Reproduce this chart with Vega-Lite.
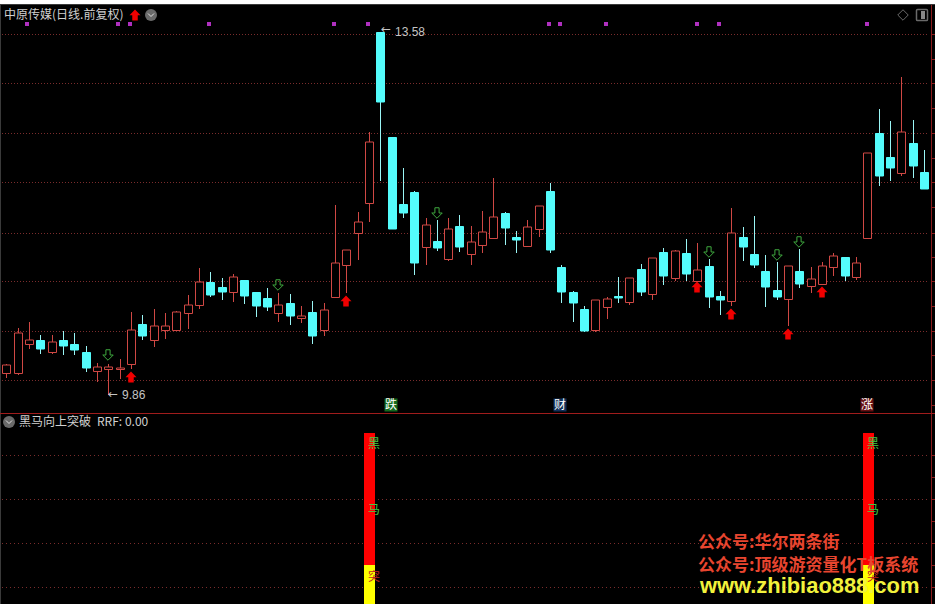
{"$schema":"https://vega.github.io/schema/vega-lite/v6.json","width":935,"height":604,"padding":0,"autosize":"none","background":"#000000","config":{"view":{"stroke":null}},
"datasets":{
"candles":[
{"i":0,"d":"u","o":10.089,"c":10.164,"h":10.178,"l":10.031},{"i":1,"d":"u","o":10.089,"c":10.492,"h":10.544,"l":10.065},{"i":2,"d":"u","o":10.386,"c":10.421,"h":10.608,"l":10.335},{"i":3,"d":"d","o":10.424,"c":10.335,"h":10.472,"l":10.283},{"i":4,"d":"u","o":10.301,"c":10.4,"h":10.472,"l":10.283},{"i":5,"d":"d","o":10.424,"c":10.362,"h":10.516,"l":10.273},{"i":6,"d":"d","o":10.383,"c":10.321,"h":10.495,"l":10.273},{"i":7,"d":"d","o":10.301,"c":10.14,"h":10.362,"l":10.099},{"i":8,"d":"u","o":10.109,"c":10.15,"h":10.185,"l":9.996},{"i":9,"d":"u","o":10.13,"c":10.147,"h":10.178,"l":9.86},{"i":10,"d":"u","o":10.124,"c":10.134,"h":10.229,"l":10.027},{"i":11,"d":"u","o":10.181,"c":10.523,"h":10.708,"l":10.13},{"i":12,"d":"d","o":10.585,"c":10.468,"h":10.677,"l":10.424},{"i":13,"d":"u","o":10.421,"c":10.564,"h":10.741,"l":10.355},{"i":14,"d":"u","o":10.523,"c":10.564,"h":10.7,"l":10.434},{"i":15,"d":"u","o":10.523,"c":10.708,"h":10.718,"l":10.523},{"i":16,"d":"u","o":10.703,"c":10.779,"h":10.885,"l":10.536},{"i":17,"d":"u","o":10.779,"c":11.015,"h":11.158,"l":10.744},{"i":18,"d":"d","o":11.015,"c":10.888,"h":11.121,"l":10.864},{"i":19,"d":"d","o":10.964,"c":10.919,"h":11.056,"l":10.837},{"i":20,"d":"u","o":10.913,"c":11.066,"h":11.097,"l":10.816},{"i":21,"d":"d","o":11.036,"c":10.878,"h":11.036,"l":10.796},{"i":22,"d":"d","o":10.913,"c":10.775,"h":10.913,"l":10.662},{"i":23,"d":"d","o":10.851,"c":10.765,"h":10.953,"l":10.724},{"i":24,"d":"u","o":10.697,"c":10.785,"h":10.902,"l":10.611},{"i":25,"d":"d","o":10.8,"c":10.673,"h":10.892,"l":10.58},{"i":26,"d":"u","o":10.652,"c":10.667,"h":10.769,"l":10.601},{"i":27,"d":"d","o":10.708,"c":10.468,"h":10.82,"l":10.386},{"i":28,"d":"u","o":10.529,"c":10.728,"h":10.8,"l":10.468},{"i":29,"d":"u","o":10.867,"c":11.21,"h":11.804,"l":10.867},{"i":30,"d":"u","o":11.195,"c":11.343,"h":11.343,"l":10.902},{"i":31,"d":"u","o":11.523,"c":11.63,"h":11.732,"l":11.247},{"i":32,"d":"u","o":11.825,"c":12.45,"h":12.552,"l":11.636},{"i":33,"d":"d","o":13.58,"c":12.866,"h":13.58,"l":12.053},{"i":34,"d":"d","o":12.504,"c":11.561,"h":12.504,"l":11.561},{"i":35,"d":"d","o":11.817,"c":11.725,"h":12.183,"l":11.674},{"i":36,"d":"d","o":11.94,"c":11.216,"h":11.951,"l":11.09},{"i":37,"d":"u","o":11.38,"c":11.599,"h":11.671,"l":11.192},{"i":38,"d":"d","o":11.438,"c":11.367,"h":11.653,"l":11.336},{"i":39,"d":"u","o":11.257,"c":11.558,"h":11.671,"l":11.233},{"i":40,"d":"d","o":11.592,"c":11.377,"h":11.705,"l":11.326},{"i":41,"d":"u","o":11.308,"c":11.425,"h":11.592,"l":11.192},{"i":42,"d":"u","o":11.4,"c":11.527,"h":11.743,"l":11.315},{"i":43,"d":"u","o":11.472,"c":11.681,"h":12.081,"l":11.472},{"i":44,"d":"d","o":11.725,"c":11.571,"h":11.735,"l":11.397},{"i":45,"d":"d","o":11.479,"c":11.448,"h":11.541,"l":11.315},{"i":46,"d":"u","o":11.39,"c":11.579,"h":11.653,"l":11.39},{"i":47,"d":"u","o":11.561,"c":11.794,"h":11.794,"l":11.479},{"i":48,"d":"d","o":11.951,"c":11.346,"h":12.033,"l":11.315},{"i":49,"d":"d","o":11.172,"c":10.916,"h":11.192,"l":10.803},{"i":50,"d":"d","o":10.916,"c":10.803,"h":10.926,"l":10.608},{"i":51,"d":"d","o":10.741,"c":10.516,"h":10.772,"l":10.506},{"i":52,"d":"u","o":10.526,"c":10.831,"h":10.831,"l":10.506},{"i":53,"d":"u","o":10.765,"c":10.841,"h":10.861,"l":10.639},{"i":54,"d":"d","o":10.875,"c":10.854,"h":11.069,"l":10.803},{"i":55,"d":"u","o":10.816,"c":11.056,"h":11.056,"l":10.782},{"i":56,"d":"d","o":11.151,"c":10.916,"h":11.203,"l":10.875},{"i":57,"d":"u","o":10.898,"c":11.261,"h":11.261,"l":10.834},{"i":58,"d":"d","o":11.326,"c":11.08,"h":11.367,"l":10.987},{"i":59,"d":"u","o":11.062,"c":11.336,"h":11.346,"l":11.028},{"i":60,"d":"d","o":11.315,"c":11.1,"h":11.459,"l":11.028},{"i":61,"d":"u","o":11.031,"c":11.138,"h":11.418,"l":11.031},{"i":62,"d":"d","o":11.182,"c":10.864,"h":11.254,"l":10.752},{"i":63,"d":"d","o":10.875,"c":10.834,"h":10.926,"l":10.68},{"i":64,"d":"u","o":10.826,"c":11.517,"h":11.776,"l":10.772},{"i":65,"d":"d","o":11.479,"c":11.377,"h":11.582,"l":11.233},{"i":66,"d":"d","o":11.305,"c":11.192,"h":11.694,"l":11.162},{"i":67,"d":"d","o":11.131,"c":10.967,"h":11.295,"l":10.762},{"i":68,"d":"d","o":10.936,"c":10.864,"h":11.223,"l":10.834},{"i":69,"d":"u","o":10.847,"c":11.179,"h":11.179,"l":10.567},{"i":70,"d":"d","o":11.131,"c":10.998,"h":11.356,"l":10.957},{"i":71,"d":"u","o":10.98,"c":11.046,"h":11.169,"l":10.905},{"i":72,"d":"u","o":11.001,"c":11.179,"h":11.22,"l":11.001},{"i":73,"d":"u","o":11.175,"c":11.281,"h":11.312,"l":11.08},{"i":74,"d":"d","o":11.271,"c":11.08,"h":11.271,"l":11.028},{"i":75,"d":"u","o":11.069,"c":11.21,"h":11.271,"l":11.039},{"i":76,"d":"u","o":11.472,"c":12.337,"h":12.337,"l":11.472},{"i":77,"d":"d","o":12.542,"c":12.107,"h":12.788,"l":12.005},{"i":78,"d":"d","o":12.299,"c":12.189,"h":12.665,"l":12.056},{"i":79,"d":"u","o":12.138,"c":12.552,"h":13.116,"l":12.107},{"i":80,"d":"d","o":12.439,"c":12.21,"h":12.675,"l":12.087},{"i":81,"d":"d","o":12.142,"c":11.974,"h":12.368,"l":11.974}],
"gridMain":[{"i":-0.35,"i2":81.27,"p":13.556},{"i":-0.35,"i2":81.27,"p":13.053},{"i":-0.35,"i2":81.27,"p":12.543},{"i":-0.35,"i2":81.27,"p":12.039},{"i":-0.35,"i2":81.27,"p":11.525},{"i":-0.35,"i2":81.27,"p":11.024},{"i":-0.35,"i2":81.27,"p":10.52},{"i":-0.35,"i2":81.27,"p":10.012}],
"gridLow":[{"i":-0.35,"i2":81.27,"v":86.96},{"i":-0.35,"i2":81.27,"v":61.2},{"i":-0.35,"i2":81.27,"v":35.5},{"i":-0.35,"i2":81.27,"v":9.77}],
"ticksLow":[{"i":81.61,"i2":81.97,"v":87.1},{"i":81.61,"i2":81.97,"v":74.3},{"i":81.61,"i2":81.97,"v":61.4},{"i":81.61,"i2":81.97,"v":48.5},{"i":81.61,"i2":81.97,"v":35.7},{"i":81.61,"i2":81.97,"v":22.8},{"i":81.61,"i2":81.97,"v":9.9}],
"squares":[{"i":1.853,"p":13.659},{"i":9.885,"p":13.659},{"i":10.944,"p":13.659},{"i":17.917,"p":13.659},{"i":28.95,"p":13.659},{"i":31.95,"p":13.659},{"i":47.93,"p":13.659},{"i":48.9,"p":13.659},{"i":52.96,"p":13.659},{"i":60.99,"p":13.659},{"i":62.93,"p":13.659},{"i":75.99,"p":13.659}],
"up":[{"i":11.36,"p":13.759},{"i":11,"p":10.048},{"i":30,"p":10.826},{"i":61,"p":10.962},{"i":64,"p":10.693},{"i":69,"p":10.488},{"i":72,"p":10.919}],
"down":[{"i":9,"p":10.267},{"i":24,"p":10.99},{"i":38,"p":11.728},{"i":62,"p":11.329},{"i":68,"p":11.298},{"i":70,"p":11.431}],
"badges":[{"i":33.93,"p":9.755,"t":"跌","k":"跌"},{"i":48.9,"p":9.755,"t":"财","k":"财"},{"i":75.99,"p":9.755,"t":"涨","k":"涨"}],
"ticks":[{"i":81.61,"i2":81.97,"p":13.556},{"i":81.61,"i2":81.97,"p":13.3},{"i":81.61,"i2":81.97,"p":13.053},{"i":81.61,"i2":81.97,"p":12.798},{"i":81.61,"i2":81.97,"p":12.543},{"i":81.61,"i2":81.97,"p":12.291},{"i":81.61,"i2":81.97,"p":12.039},{"i":81.61,"i2":81.97,"p":11.784},{"i":81.61,"i2":81.97,"p":11.525},{"i":81.61,"i2":81.97,"p":11.271},{"i":81.61,"i2":81.97,"p":11.024},{"i":81.61,"i2":81.97,"p":10.772},{"i":81.61,"i2":81.97,"p":10.52},{"i":81.61,"i2":81.97,"p":10.267},{"i":81.61,"i2":81.97,"p":10.012},{"i":81.61,"i2":81.97,"p":9.76}],
"rrf":[{"i":32.05,"a":22.8,"b":100,"k":"red"},{"i":32.05,"a":0,"b":22.8,"k":"yellow"},{"i":76.05,"a":22.8,"b":100,"k":"red"},{"i":76.05,"a":0,"b":22.8,"k":"yellow"}],
"rrfText":[{"i":32.48,"v":93.6,"t":"黑","k":"g"},{"i":32.48,"v":55,"t":"马","k":"g"},{"i":32.48,"v":16,"t":"突","k":"r"},{"i":76.52,"v":93.6,"t":"黑","k":"g"},{"i":76.52,"v":55,"t":"马","k":"g"},{"i":76.52,"v":16,"t":"突","k":"r"}],
"mark":[{"i":61.05,"v":35.7,"t":"公众号:华尔两条街"},{"i":61.05,"v":22.3,"t":"公众号:顶级游资量化T板系统"}]
},
"encoding":{"x":{"field":"i","type":"quantitative","axis":null,"scale":{"domain":[-0.556,81.97],"range":[0,935],"padding":0,"nice":false,"zero":false,"round":true}}},
"resolve":{"scale":{"y":"independent","color":"independent","fill":"independent"}},
"layer":[
{"resolve":{"scale":{"color":"independent"}},"layer":[
{"data":{"name":"gridMain"},"mark":{"type":"rule","color":"#7a2c2c","strokeWidth":1,"strokeDash":[1,2],"yOffset":0.5},"encoding":{"x2":{"field":"i2"},"y":{"field":"p","type":"quantitative","axis":null,"scale":{"domain":[9.6755,13.908],"range":[413,0],"nice":false,"zero":false,"round":true}}}},
{"data":{"name":"candles"},"mark":{"type":"rule","strokeWidth":1,"xOffset":0.5},"encoding":{"y":{"field":"l","type":"quantitative","scale":{"domain":[9.6755,13.908],"range":[413,0],"nice":false,"zero":false,"round":true},"axis":null},"y2":{"field":"h"},"color":{"field":"d","type":"nominal","legend":null,"scale":{"domain":["u","d"],"range":["#d04844","#9af6f6"]}}}},
{"data":{"name":"candles"},"mark":{"type":"bar","size":8,"strokeWidth":1,"xOffset":0.5,"yOffset":0.5},"encoding":{"y":{"field":"o","type":"quantitative","axis":null,"scale":{"domain":[9.6755,13.908],"range":[413,0],"nice":false,"zero":false,"round":true}},"y2":{"field":"c"},"fill":{"field":"d","type":"nominal","legend":null,"scale":{"domain":["u","d"],"range":["#000000","#54fcfc"]}},"stroke":{"field":"d","type":"nominal","legend":null,"scale":{"domain":["u","d"],"range":["#d04844","#54fcfc"]}}}},
{"data":{"values":[{"i":81.61}]},"mark":{"type":"rule","color":"#8a1c1c","strokeWidth":1,"xOffset":0.5},"encoding":{}},
{"data":{"name":"ticks"},"mark":{"type":"rule","color":"#8a1c1c","strokeWidth":1,"yOffset":0.5},"encoding":{"x2":{"field":"i2"},"y":{"field":"p","type":"quantitative","axis":null,"scale":{"domain":[9.6755,13.908],"range":[413,0],"nice":false,"zero":false,"round":true}}}},
{"data":{"values":[{"i":-0.556}]},"mark":{"type":"rule","color":"#3a3a3a","strokeWidth":1,"xOffset":0.5},"encoding":{}},
{"data":{"values":[{"i":-0.556,"i2":81.97,"p":13.908,"p2":13.867}]},"mark":{"type":"rect","fill":"#ffffff"},"encoding":{"x2":{"field":"i2"},"y":{"field":"p","type":"quantitative","axis":null,"scale":{"domain":[9.6755,13.908],"range":[413,0],"nice":false,"zero":false,"round":true}},"y2":{"field":"p2"}}},
{"data":{"values":[{"i":-0.556,"i2":81.97,"p":13.867}]},"mark":{"type":"rule","color":"#3a3a3a","strokeWidth":1,"yOffset":0.5},"encoding":{"x2":{"field":"i2"},"y":{"field":"p","type":"quantitative","axis":null,"scale":{"domain":[9.6755,13.908],"range":[413,0],"nice":false,"zero":false,"round":true}}}},
{"data":{"values":[{"i":-0.556,"i2":81.97,"p":9.679}]},"mark":{"type":"rule","color":"#a01c1c","strokeWidth":1,"yOffset":0.5},"encoding":{"x2":{"field":"i2"},"y":{"field":"p","type":"quantitative","axis":null,"scale":{"domain":[9.6755,13.908],"range":[413,0],"nice":false,"zero":false,"round":true}}}},
{"data":{"name":"squares"},"mark":{"type":"point","shape":"square","filled":true,"size":16,"color":"#b030c0","opacity":1},"encoding":{"y":{"field":"p","type":"quantitative","axis":null,"scale":{"domain":[9.6755,13.908],"range":[413,0],"nice":false,"zero":false,"round":true}}}},
{"data":{"name":"up"},"mark":{"type":"point","shape":"M0,-1L1,0.05L0.5,0.05L0.5,1L-0.5,1L-0.5,0.05L-1,0.05Z","filled":true,"size":121,"color":"#f00000","opacity":1},"encoding":{"y":{"field":"p","type":"quantitative","axis":null,"scale":{"domain":[9.6755,13.908],"range":[413,0],"nice":false,"zero":false,"round":true}}}},
{"data":{"name":"down"},"mark":{"type":"point","shape":"M-0.4,-1H0.4V0H1L0,1L-1,0H-0.4Z","filled":false,"size":110,"stroke":"#3fa83f","strokeWidth":1,"opacity":1},"encoding":{"y":{"field":"p","type":"quantitative","axis":null,"scale":{"domain":[9.6755,13.908],"range":[413,0],"nice":false,"zero":false,"round":true}}}},
{"data":{"name":"badges"},"mark":{"type":"point","shape":"square","filled":true,"size":169,"opacity":1},"encoding":{"y":{"field":"p","type":"quantitative","axis":null,"scale":{"domain":[9.6755,13.908],"range":[413,0],"nice":false,"zero":false,"round":true}},"color":{"field":"k","type":"nominal","legend":null,"scale":{"domain":["跌","财","涨"],"range":["#146a1e","#12305a","#661012"]}}}},
{"data":{"name":"badges"},"mark":{"type":"text","font":"Noto Sans CJK SC","fontSize":12,"color":"#ffffff","baseline":"middle","align":"center"},"encoding":{"text":{"field":"t"},"y":{"field":"p","type":"quantitative","axis":null,"scale":{"domain":[9.6755,13.908],"range":[413,0],"nice":false,"zero":false,"round":true}}}},
{"data":{"values":[{"i":33.05,"p":13.61,"t":"←"},{"i":9.02,"p":9.87,"t":"←"}]},"mark":{"type":"text","font":"DejaVu Sans","fontSize":12,"color":"#c4c4c4","baseline":"middle","align":"left"},"encoding":{"text":{"field":"t"},"y":{"field":"p","type":"quantitative","axis":null,"scale":{"domain":[9.6755,13.908],"range":[413,0],"nice":false,"zero":false,"round":true}}}},
{"data":{"values":[{"i":34.3,"p":13.58,"t":"13.58"},{"i":10.2,"p":9.86,"t":"9.86"}]},"mark":{"type":"text","font":"Liberation Sans","fontSize":12,"color":"#c4c4c4","baseline":"middle","align":"left"},"encoding":{"text":{"field":"t"},"y":{"field":"p","type":"quantitative","axis":null,"scale":{"domain":[9.6755,13.908],"range":[413,0],"nice":false,"zero":false,"round":true}}}},
{"data":{"values":[{"i":-0.203,"p":13.754,"t":"中原传媒(日线.前复权)"}]},"mark":{"type":"text","font":"Noto Sans CJK SC","fontSize":12,"color":"#d0d0d0","baseline":"middle","align":"left"},"encoding":{"text":{"field":"t"},"y":{"field":"p","type":"quantitative","axis":null,"scale":{"domain":[9.6755,13.908],"range":[413,0],"nice":false,"zero":false,"round":true}}}},
{"data":{"values":[{"i":12.77,"p":13.754}]},"mark":{"type":"point","shape":"circle","filled":true,"size":144,"color":"#6a6a6a","opacity":1},"encoding":{"y":{"field":"p","type":"quantitative","axis":null,"scale":{"domain":[9.6755,13.908],"range":[413,0],"nice":false,"zero":false,"round":true}}}},
{"data":{"values":[{"i":12.77,"p":13.754}]},"mark":{"type":"point","shape":"M-1,-0.5L0,0.5L1,-0.5","filled":false,"size":36,"stroke":"#e0e0e0","strokeWidth":1,"opacity":1},"encoding":{"y":{"field":"p","type":"quantitative","axis":null,"scale":{"domain":[9.6755,13.908],"range":[413,0],"nice":false,"zero":false,"round":true}}}},
{"data":{"values":[{"i":79.17,"p":13.751}]},"mark":{"type":"point","shape":"diamond","filled":false,"size":110,"stroke":"#6a6a6a","strokeWidth":1,"opacity":1},"encoding":{"y":{"field":"p","type":"quantitative","axis":null,"scale":{"domain":[9.6755,13.908],"range":[413,0],"nice":false,"zero":false,"round":true}}}},
{"data":{"values":[{"i":80.82,"p":13.751}]},"mark":{"type":"point","shape":"M-0.8,-1H0.8Q1,-1 1,-0.8V0.8Q1,1 0.8,1H-0.8Q-1,1 -1,0.8V-0.8Q-1,-1 -0.8,-1Z","filled":false,"size":121,"stroke":"#6a6a6a","strokeWidth":1.5,"opacity":1},"encoding":{"y":{"field":"p","type":"quantitative","axis":null,"scale":{"domain":[9.6755,13.908],"range":[413,0],"nice":false,"zero":false,"round":true}}}},
{"data":{"values":[{"i":80.95,"p":13.751}]},"mark":{"type":"point","shape":"M-0.5,-1H0.5V1H-0.5Z","filled":true,"size":64,"color":"#8a8a8a","opacity":1},"encoding":{"y":{"field":"p","type":"quantitative","axis":null,"scale":{"domain":[9.6755,13.908],"range":[413,0],"nice":false,"zero":false,"round":true}}}}
]},
{"layer":[
{"data":{"name":"gridLow"},"mark":{"type":"rule","color":"#7a2c2c","strokeWidth":1,"strokeDash":[1,3],"yOffset":0.5},"encoding":{"x2":{"field":"i2"},"y":{"field":"v","type":"quantitative","axis":null,"scale":{"domain":[0,111.7],"range":[604,413],"nice":false,"zero":false,"round":true}}}},
{"data":{"name":"ticksLow"},"mark":{"type":"rule","color":"#8a1c1c","strokeWidth":1,"yOffset":0.5},"encoding":{"x2":{"field":"i2"},"y":{"field":"v","type":"quantitative","axis":null,"scale":{"domain":[0,111.7],"range":[604,413],"nice":false,"zero":false,"round":true}}}},
{"data":{"name":"rrf"},"mark":{"type":"bar","size":11,"xOffset":0.5},"encoding":{"y":{"field":"a","type":"quantitative","scale":{"domain":[0,111.7],"range":[604,413],"nice":false,"zero":false,"round":true},"axis":null},"y2":{"field":"b"},"color":{"field":"k","type":"nominal","legend":null,"scale":{"domain":["red","yellow"],"range":["#ff0000","#ffff00"]}}}},
{"data":{"name":"rrfText"},"mark":{"type":"text","font":"Noto Sans CJK SC","fontSize":12,"baseline":"middle","align":"center"},"encoding":{"text":{"field":"t"},"y":{"field":"v","type":"quantitative","axis":null,"scale":{"domain":[0,111.7],"range":[604,413],"nice":false,"zero":false,"round":true}},"fill":{"field":"k","type":"nominal","legend":null,"scale":{"domain":["g","r"],"range":["#45c845","#c02020"]}}}},
{"data":{"values":[{"i":1.121,"v":106.4,"t":"黑马向上突破"},{"i":8,"v":106.4,"t":"RRF: 0.00"}]},"mark":{"type":"text","font":"Noto Sans CJK SC","fontSize":12,"color":"#d0d0d0","baseline":"middle","align":"left"},"encoding":{"text":{"field":"t"},"y":{"field":"v","type":"quantitative","axis":null,"scale":{"domain":[0,111.7],"range":[604,413],"nice":false,"zero":false,"round":true}}}},
{"data":{"values":[{"i":0.238,"v":106.4}]},"mark":{"type":"point","shape":"circle","filled":true,"size":144,"color":"#6a6a6a","opacity":1},"encoding":{"y":{"field":"v","type":"quantitative","axis":null,"scale":{"domain":[0,111.7],"range":[604,413],"nice":false,"zero":false,"round":true}}}},
{"data":{"values":[{"i":0.238,"v":106.4}]},"mark":{"type":"point","shape":"M-1,-0.5L0,0.5L1,-0.5","filled":false,"size":36,"stroke":"#e0e0e0","strokeWidth":1,"opacity":1},"encoding":{"y":{"field":"v","type":"quantitative","axis":null,"scale":{"domain":[0,111.7],"range":[604,413],"nice":false,"zero":false,"round":true}}}},
{"data":{"name":"mark"},"mark":{"type":"text","font":"Noto Sans CJK SC","fontWeight":"bold","fontSize":17,"color":"#e8452f","baseline":"middle","align":"left"},"encoding":{"text":{"field":"t"},"y":{"field":"v","type":"quantitative","axis":null,"scale":{"domain":[0,111.7],"range":[604,413],"nice":false,"zero":false,"round":true}}}},
{"data":{"values":[{"i":61.2,"v":10.5,"t":"www.zhibiao888.com"}]},"mark":{"type":"text","font":"Liberation Sans","fontWeight":"bold","fontSize":21.9,"color":"#f2f23c","baseline":"middle","align":"left"},"encoding":{"text":{"field":"t"},"y":{"field":"v","type":"quantitative","axis":null,"scale":{"domain":[0,111.7],"range":[604,413],"nice":false,"zero":false,"round":true}}}}
]}
]}
